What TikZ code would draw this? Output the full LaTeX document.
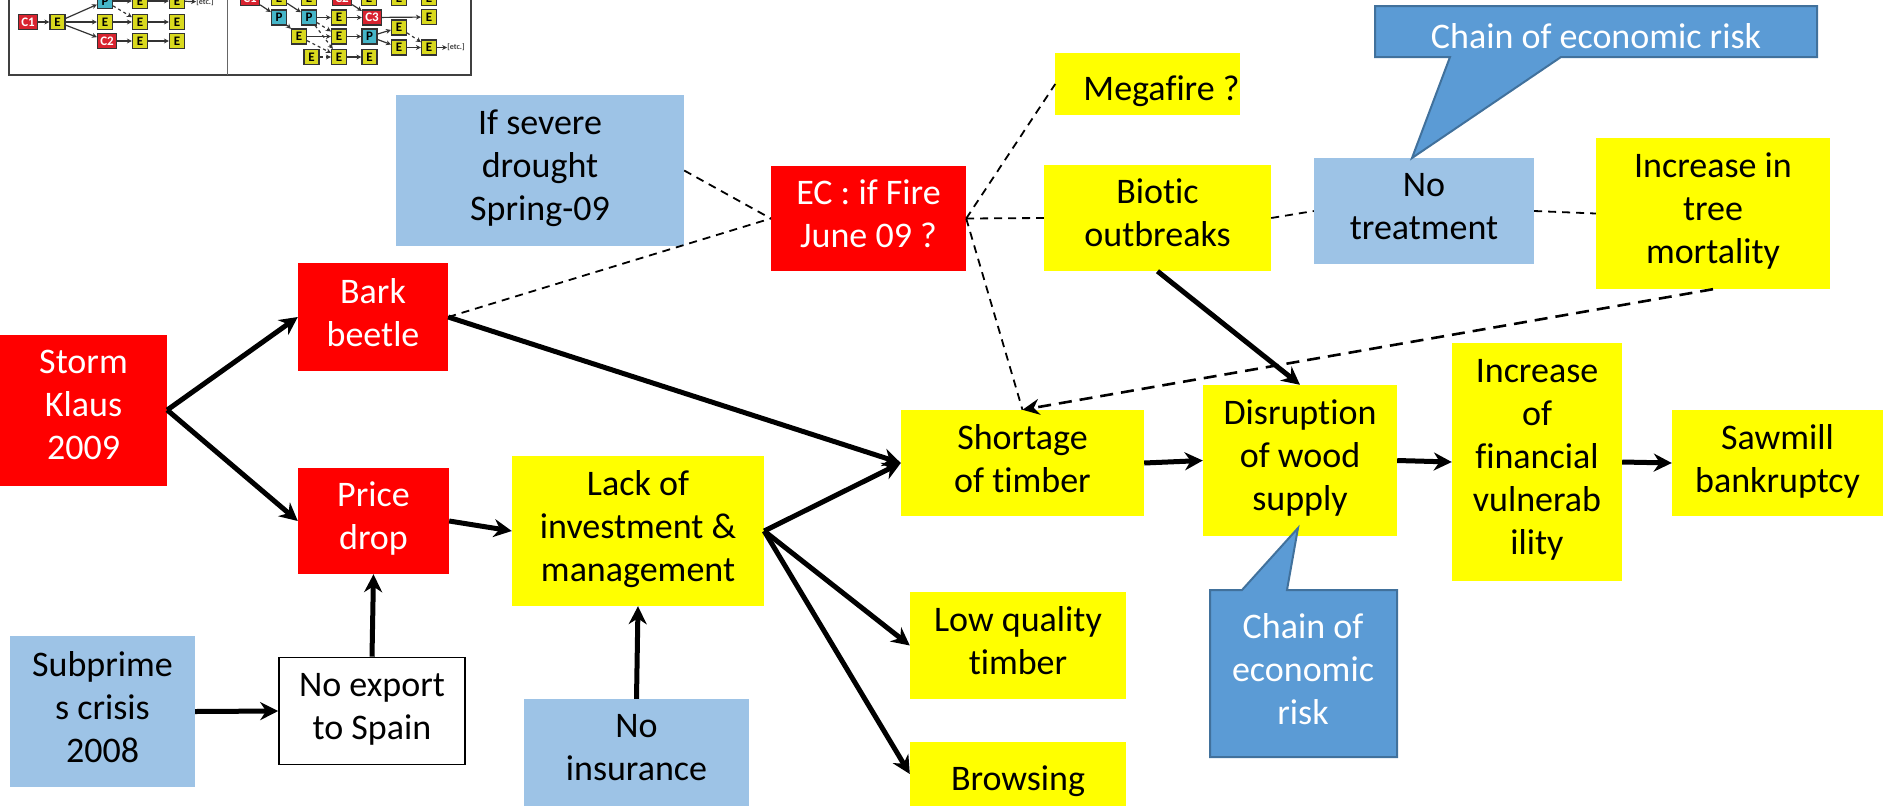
\documentclass[tikz,border=0pt]{standalone}
\usepackage{fontspec}
\setmainfont[Ligatures=NoCommon]{Carlito}
\usetikzlibrary{arrows.meta}
\definecolor{riskred}{HTML}{FF0000}
\definecolor{effectyellow}{HTML}{FFFF00}
\definecolor{driverblue}{HTML}{9DC3E6}
\definecolor{chainblue}{HTML}{5B9BD5}
\definecolor{chainedge}{HTML}{41719C}
\definecolor{tinyyellow}{HTML}{D9D91E}
\definecolor{tinyred}{HTML}{D8232F}
\definecolor{tinycyan}{HTML}{45B5C8}
\begin{document}
\begin{tikzpicture}[x=1pt, y=-1pt,
    main/.style = {inner sep=0pt, align=center, font=\fontsize{36}{43}\selectfont,
        execute at begin node={\rule{0pt}{42pt}}, execute at end node={\rule[-10pt]{0pt}{0pt}}},
    riskbox/.style = {main, fill=riskred, text=white},
    effectbox/.style = {main, fill=effectyellow},
    driverbox/.style = {main, fill=driverblue},
    flow/.style = {-{Stealth[length=18pt, width=18pt]}, line width=5pt},
    link/.style = {dash pattern=on 8pt off 6pt, line width=1.8pt},
    linktip/.style = {dash pattern=on 13pt off 8pt, line width=2.6pt, -{Stealth[length=17pt, width=16pt]}},
    chainbox/.style = {fill=chainblue, draw=chainedge, line width=2pt},
    tiny/.style = {draw=black!80, line width=1.2pt, inner sep=0pt, minimum height=15pt, minimum width=15pt, font=\fontsize{13}{13}\selectfont\bfseries},
    tinye/.style = {tiny, fill=tinyyellow},
    tinyc/.style = {tiny, fill=tinyred, text=white, minimum width=19pt},
    tinyp/.style = {tiny, fill=tinycyan},
    tinyetc/.style = {font=\fontsize{8}{8}\selectfont\bfseries, inner sep=0pt, text=black!75},
    tinyflow/.style = {-{Stealth[length=5pt, width=5pt]}, line width=1.2pt, black!80}]
    \useasboundingbox (0,0) rectangle (1883,807);
    \node[main, draw=black, line width=1.6pt, minimum width=186pt, minimum height=107pt] (export) at (372,711) {No export\\to Spain};
    \node[riskbox, minimum width=167pt, minimum height=151pt] (storm) at (83.5,410) {Storm\\Klaus\\2009};
    \node[riskbox, minimum width=150pt, minimum height=108pt] (bark) at (373,317) {Bark\\beetle};
    \node[riskbox, minimum width=151pt, minimum height=106pt] (price) at (373.5,521) {Price\\drop};
    \node[riskbox, minimum width=195pt, minimum height=105pt] (fire) at (868.5,218.5) {EC : if Fire\\June 09 ?};
    \node[effectbox, minimum width=252pt, minimum height=150pt] (lack) at (638,531) {Lack of\\investment \&\\management};
    \node[effectbox, minimum width=177pt, minimum height=62pt] (megafire) at (1147.5,84) {\hspace*{28pt}Megafire ?};
    \node[effectbox, minimum width=227pt, minimum height=106pt] (biotic) at (1157.5,218) {Biotic\\outbreaks};
    \node[effectbox, minimum width=234pt, minimum height=151pt] (mortality) at (1713,213.5) {Increase in\\tree\\mortality};
    \node[effectbox, minimum width=243pt, minimum height=106pt] (shortage) at (1022.5,463) {Shortage\\of timber};
    \node[effectbox, minimum width=194pt, minimum height=151pt] (disruption) at (1300,460.5) {Disruption\\of wood\\supply};
    \node[effectbox, minimum width=170pt, minimum height=238pt] (financial) at (1537,462) {Increase\\of\\financial\\vulnerab\\ility};
    \node[effectbox, minimum width=211pt, minimum height=106pt] (sawmill) at (1777.5,463) {Sawmill\\bankruptcy};
    \node[effectbox, minimum width=216pt, minimum height=107pt] (quality) at (1018,645.5) {Low quality\\timber};
    \node[effectbox, minimum width=216pt, minimum height=64pt] (browsing) at (1018,774) {Browsing};
    \node[driverbox, minimum width=185pt, minimum height=151pt] (subprime) at (102.5,711.5) {Subprime\\s crisis\\2008};
    \node[driverbox, minimum width=225pt, minimum height=107pt] (insurance) at (636.5,752.5) {No\\insurance};
    \node[driverbox, minimum width=288pt, minimum height=151pt] (drought) at (540,170.5) {If severe\\drought\\Spring-09};
    \node[driverbox, minimum width=220pt, minimum height=106pt] (treatment) at (1424,211) {No\\treatment};
    \draw[flow] (storm.east) to (bark.west);
    \draw[flow] (storm.east) to (price.west);
    \draw[flow] (bark.east) to (shortage.west);
    \draw[flow] (price.east) to (lack.west);
    \draw[flow] (lack.east) to (shortage.west);
    \draw[flow] (lack.east) to (quality.west);
    \draw[flow] (lack.east) to (browsing.west);
    \draw[flow] (subprime.east) to (export.west);
    \draw[flow] (export.north) to (price.south);
    \draw[flow] (insurance.north) to (lack.south);
    \draw[flow] (shortage.east) to (disruption.west);
    \draw[flow] (disruption.east) to (financial.west);
    \draw[flow] (financial.east) to (sawmill.west);
    \draw[flow] (biotic.south) to (disruption.north);
    \draw[link] (bark.east) to (fire.west);
    \draw[link] (drought.east) to (fire.west);
    \draw[link] (fire.east) to (megafire.west);
    \draw[link] (fire.east) to (biotic.west);
    \draw[link] (fire.east) to (shortage.north);
    \draw[link] (biotic.east) to (treatment.west);
    \draw[link] (treatment.east) to (mortality.west);
    \draw[linktip] (mortality.south) to (shortage.north);
    \draw[chainbox] (1375,6) -- (1817,6) -- (1817,57) -- (1561,57) -- (1412,158) -- (1450,57) -- (1375,57) -- cycle;
    \node[main, text=white] (chaintop) at (1596,32) {Chain of economic risk};
    \draw[chainbox] (1210,590) -- (1242,590) -- (1298,528) -- (1287,590) -- (1397,590) -- (1397,757) -- (1210,757) -- cycle;
    \node[main, text=white] (chainlow) at (1303,674) {Chain of\\economic\\risk};
    \begin{scope}
    \clip (0,0) rectangle (480,80);
    \draw[line width=1.6pt, black!75] (9,-5) rectangle (471,75);
    \draw[line width=1pt, black!60] (227,-5) -- (227,75);
    \node[tinyc] (a1) at (28,22) {C1};
    \node[tinye] (a2) at (57.5,22) {E};
    \node[tinyp] (a3) at (105,1) {P};
    \node[tinye] (a4) at (140,1) {E};
    \node[tinye] (a5) at (177,1) {E};
    \node[tinye] (a6) at (105,22) {E};
    \node[tinye] (a7) at (140,22) {E};
    \node[tinye] (a8) at (177,22) {E};
    \node[tinyc] (a9) at (107,41) {C2};
    \node[tinye] (a10) at (140,41) {E};
    \node[tinye] (a11) at (177,41) {E};
    \node[tinyetc] (a12) at (205,2) {[etc.]};
    \draw[tinyflow] (a1) to (a2);
    \draw[tinyflow] (a2) to (a3);
    \draw[tinyflow] (a2) to (a6);
    \draw[tinyflow] (a2) to (a9);
    \draw[tinyflow] (a3) to (a4);
    \draw[tinyflow] (a4) to (a5);
    \draw[tinyflow] (a5) to (a12);
    \draw[tinyflow] (a6) to (a7);
    \draw[tinyflow] (a7) to (a8);
    \draw[tinyflow] (a9) to (a10);
    \draw[tinyflow] (a10) to (a11);
    \draw[tinyflow, dashed] (a3) to (a7);
    \node[tinyc] (b1) at (250,-2) {C1};
    \node[tinye] (b2) at (279,-2) {E};
    \node[tinye] (b3) at (309,-2) {E};
    \node[tinyc] (b4) at (342,-2) {C2};
    \node[tinye] (b5) at (369,-2) {E};
    \node[tinye] (b6) at (399,-2) {E};
    \node[tinye] (b7) at (429,-2) {E};
    \node[tinyp] (b8) at (279,17.5) {P};
    \node[tinyp] (b9) at (309,17.5) {P};
    \node[tinye] (b10) at (339,17.5) {E};
    \node[tinyc] (b11) at (372,17.5) {C3};
    \node[tinye] (b12) at (429,17) {E};
    \node[tinye] (b13) at (299,36.5) {E};
    \node[tinye] (b14) at (339,36.5) {E};
    \node[tinyp] (b15) at (369.5,36.5) {P};
    \node[tinye] (b16) at (399,27.5) {E};
    \node[tinye] (b17) at (399,47.5) {E};
    \node[tinye] (b18) at (429,47.5) {E};
    \node[tinyetc] (b19) at (456,47.5) {[etc.]};
    \node[tinye] (b20) at (311.5,57) {E};
    \node[tinye] (b21) at (339,57) {E};
    \node[tinye] (b22) at (369.5,57) {E};
    \draw[tinyflow] (b1) to (b8);
    \draw[tinyflow] (b2) to (b9);
    \draw[tinyflow] (b4) to (b11);
    \draw[tinyflow] (b8) to (b13);
    \draw[tinyflow] (b9) to (b10);
    \draw[tinyflow] (b10) to (b11);
    \draw[tinyflow] (b11) to (b12);
    \draw[tinyflow] (b13) to (b14);
    \draw[tinyflow] (b14) to (b15);
    \draw[tinyflow] (b15) to (b16);
    \draw[tinyflow] (b15) to (b17);
    \draw[tinyflow] (b17) to (b18);
    \draw[tinyflow] (b18) to (b19);
    \draw[tinyflow] (b21) to (b22);
    \draw[tinyflow, dashed] (b16) to (b18);
    \draw[tinyflow, dashed] (b9) to (b14);
    \draw[tinyflow, dashed] (b9) to (b21);
    \draw[tinyflow, dashed] (b13) to (b21);
    \draw[tinyflow, dashed] (b20) to (b21);
    \end{scope}
\end{tikzpicture}
\end{document}
